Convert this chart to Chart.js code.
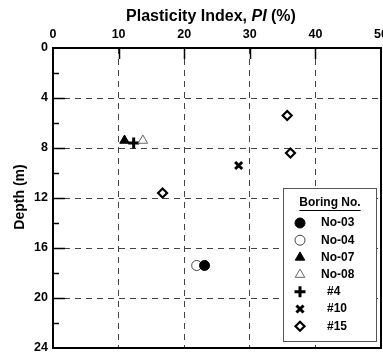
<!DOCTYPE html>
<html lang="en">
<head>
<meta charset="UTF-8">
<title>Plasticity Index vs Depth</title>
<script src="https://cdn.jsdelivr.net/npm/chart.js"></script>
<style>
  html, body { margin: 0; padding: 0; background: #fff; }
  #wrap { width: 383px; height: 355px; }
</style>
</head>
<body>
<div id="wrap"><canvas id="grafica" width="383" height="355"></canvas></div>
<script>
// --- data ---
const boringNames = ['No-03', 'No-04', 'No-07', 'No-08', '#4', '#10', '#15'];
const piNo03 = [23.1];
const depthNo03 = [17.4];
const piNo04 = [21.9];
const depthNo04 = [17.4];
const piNo07 = [10.9];
const depthNo07 = [7.4];
const piNo08 = [13.7];
const depthNo08 = [7.4];
const pi4 = [12.3];
const depth4 = [7.6];
const pi10 = [28.3];
const depth10 = [9.4];
const pi15 = [35.7, 36.2, 16.7];
const depth15 = [5.4, 8.4, 11.6];
const piTicks = [0, 10, 20, 30, 40, 50];
const depthTicks = [0, 4, 8, 12, 16, 20, 24];

const FONT = '"Liberation Sans", Arial, sans-serif';

function pts(xs, ys) {
    return xs.map((x, i) => ({ x: x, y: ys[i] }));
}

// marker styles per series
const estilos = [
    { pointStyle: 'circle', radius: 5, bg: '#000', bc: '#000', bw: 1 },
    { pointStyle: 'circle', radius: 5, bg: '#fff', bc: '#444', bw: 1 },
    { pointStyle: 'triangle', radius: 5.5, bg: '#000', bc: '#000', bw: 1 },
    { pointStyle: 'triangle', radius: 5.5, bg: '#fff', bc: '#666', bw: 1 },
    { pointStyle: 'cross', radius: 5.5, bg: '#000', bc: '#000', bw: 3 },
    { pointStyle: 'crossRot', radius: 5, bg: '#000', bc: '#000', bw: 3 },
    { pointStyle: 'rectRot', radius: 4.5, bg: '#fff', bc: '#000', bw: 2.2 }
];

const valores = [
    pts(piNo03, depthNo03),
    pts(piNo04, depthNo04),
    pts(piNo07, depthNo07),
    pts(piNo08, depthNo08),
    pts(pi4, depth4),
    pts(pi10, depth10),
    pts(pi15, depth15)
];

const datasets = boringNames.map((name, i) => ({
    label: name,
    data: valores[i],
    pointStyle: estilos[i].pointStyle,
    pointRadius: estilos[i].radius,
    pointBackgroundColor: estilos[i].bg,
    pointBorderColor: estilos[i].bc,
    pointBorderWidth: estilos[i].bw,
    showLine: false
}));

// --- extras: titles, inner ticks, frame, legend box ---
const extrasPlugin = {
    id: 'extras',
    afterDraw(chart) {
        const ctx = chart.ctx;
        const area = chart.chartArea;
        const xs = chart.scales.x;
        const ys = chart.scales.y;
        ctx.save();

        // inner tick marks on left axis (every 2 m)
        ctx.strokeStyle = '#000';
        ctx.lineWidth = 1.5;
        for (let d = 2; d < 24; d += 2) {
            const py = Math.round(ys.getPixelForValue(d)) + 0.5;
            const len = d % 4 === 0 ? 12 : 6;
            ctx.beginPath();
            ctx.moveTo(area.left, py);
            ctx.lineTo(area.left + len, py);
            ctx.stroke();
        }
        // inner tick marks on top axis
        for (let p = 10; p < 50; p += 10) {
            const px = Math.round(xs.getPixelForValue(p)) + 0.5;
            ctx.beginPath();
            ctx.moveTo(px, area.top);
            ctx.lineTo(px, area.top + 11);
            ctx.stroke();
        }

        // frame
        ctx.lineWidth = 2;
        ctx.strokeRect(area.left, area.top, area.right - area.left, area.bottom - area.top);

        // main title with italic PI
        ctx.fillStyle = '#000';
        ctx.textBaseline = 'middle';
        const parts = [
            { t: 'Plasticity Index, ', f: 'bold 16px ' + FONT },
            { t: 'PI', f: 'italic bold 16px ' + FONT },
            { t: ' (%)', f: 'bold 16px ' + FONT }
        ];
        let total = 0;
        parts.forEach(p => { ctx.font = p.f; p.w = ctx.measureText(p.t).width; total += p.w; });
        let tx = 211 - total / 2;
        parts.forEach(p => {
            ctx.font = p.f;
            ctx.textAlign = 'left';
            ctx.fillText(p.t, tx, 17);
            tx += p.w;
        });

        // y axis title
        ctx.save();
        ctx.translate(20, 197);
        ctx.rotate(-Math.PI / 2);
        ctx.font = 'bold 14px ' + FONT;
        ctx.textAlign = 'center';
        ctx.fillText('Depth (m)', 0, 0);
        ctx.restore();

        // legend box
        const lx = 283, ly = 188, lw = 93, lh = 153;
        ctx.fillStyle = '#fff';
        ctx.fillRect(lx, ly, lw, lh);
        ctx.strokeStyle = '#555';
        ctx.lineWidth = 1;
        ctx.strokeRect(lx + 0.5, ly + 0.5, lw, lh);

        ctx.fillStyle = '#000';
        ctx.font = 'bold 12px ' + FONT;
        ctx.textAlign = 'center';
        ctx.fillText('Boring No.', 330, 203);
        const tw = ctx.measureText('Boring No.').width;
        ctx.strokeStyle = '#000';
        ctx.lineWidth = 1;
        ctx.beginPath();
        ctx.moveTo(330 - tw / 2, 210.5);
        ctx.lineTo(330 + tw / 2, 210.5);
        ctx.stroke();

        chart.data.datasets.forEach((ds, i) => {
            const cy = 223 + i * 17.2;
            ctx.fillStyle = ds.pointBackgroundColor;
            ctx.strokeStyle = ds.pointBorderColor;
            ctx.lineWidth = ds.pointBorderWidth;
            Chart.helpers.drawPoint(ctx, {
                pointStyle: ds.pointStyle,
                radius: ds.pointRadius,
                rotation: 0,
                borderWidth: ds.pointBorderWidth
            }, 300, cy);
            ctx.fillStyle = '#000';
            ctx.font = 'bold 12px ' + FONT;
            ctx.textAlign = 'left';
            const offset = ds.label.startsWith('#') ? 327 : 321;
            ctx.fillText(ds.label, offset, cy);
        });

        ctx.restore();
    }
};

const gridColor = '#444';

new Chart(document.getElementById('grafica').getContext('2d'), {
    type: 'scatter',
    data: { datasets: datasets },
    options: {
        responsive: false,
        animation: false,
        layout: { padding: { left: 0, top: 0, right: 2, bottom: 7 }, autoPadding: false },
        plugins: { legend: { display: false }, tooltip: { enabled: false } },
        scales: {
            x: {
                type: 'linear',
                position: 'top',
                min: 0,
                max: 50,
                afterFit(s) { s.height = 48; s.paddingLeft = 0; s.paddingRight = 0; },
                afterBuildTicks(s) { s.ticks = piTicks.map(v => ({ value: v })); },
                ticks: {
                    color: '#000',
                    font: { family: FONT, size: 12.5, weight: 'bold' },
                    padding: 6,
                    maxRotation: 0
                },
                grid: {
                    drawTicks: false,
                    color: ctx => (ctx.tick && ctx.tick.value > 0 && ctx.tick.value < 50) ? gridColor : 'rgba(0,0,0,0)',
                    lineWidth: 1
                },
                border: { display: false, dash: [6, 5] }
            },
            y: {
                type: 'linear',
                reverse: true,
                min: 0,
                max: 24,
                afterFit(s) { s.width = 53; s.paddingTop = 0; s.paddingBottom = 0; },
                afterBuildTicks(s) { s.ticks = depthTicks.map(v => ({ value: v })); },
                ticks: {
                    color: '#000',
                    font: { family: FONT, size: 12.5, weight: 'bold' },
                    padding: 5
                },
                grid: {
                    drawTicks: false,
                    color: ctx => (ctx.tick && ctx.tick.value > 0 && ctx.tick.value < 24) ? gridColor : 'rgba(0,0,0,0)',
                    lineWidth: 1
                },
                border: { display: false, dash: [6, 5] }
            }
        }
    },
    plugins: [extrasPlugin]
});
</script>
</body>
</html>
